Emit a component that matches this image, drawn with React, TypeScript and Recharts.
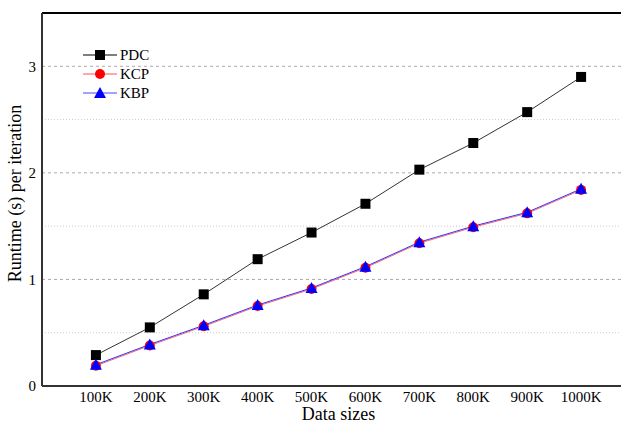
import { LineChart, Line, XAxis, YAxis, ReferenceLine } from 'recharts';

const sizes = [100, 200, 300, 400, 500, 600, 700, 800, 900, 1000];
const pdc = [0.29, 0.55, 0.86, 1.19, 1.44, 1.71, 2.03, 2.28, 2.57, 2.9];
const kcp = [0.19, 0.38, 0.56, 0.75, 0.91, 1.11, 1.34, 1.49, 1.62, 1.84];
const kbp = [0.2, 0.39, 0.57, 0.76, 0.92, 1.12, 1.35, 1.5, 1.63, 1.85];
const yTicks = [0, 1, 2, 3];
const minorLines = [0.5, 1.5, 2.5];

const data = sizes.map((s, i) => ({ size: s, PDC: pdc[i], KCP: kcp[i], KBP: kbp[i] }));

const FONT = '"Liberation Serif", "Times New Roman", serif';

const Square = (props: any) => {
  const { cx, cy, key } = props;
  if (cx == null || cy == null) return null;
  return <rect key={key} x={cx - 5} y={cy - 5} width={10} height={10} fill="#000" />;
};

const Circle = (props: any) => {
  const { cx, cy, key } = props;
  if (cx == null || cy == null) return null;
  return <circle key={key} cx={cx} cy={cy} r={5} fill="#ff0000" />;
};

const Triangle = (props: any) => {
  const { cx, cy, key } = props;
  if (cx == null || cy == null) return null;
  return <path key={key} d={`M${cx},${cy - 6} L${cx + 6},${cy + 5} L${cx - 6},${cy + 5} Z`} fill="#0000ff" />;
};

const legendItems = [
  { name: 'PDC', line: '#000', marker: 'square' },
  { name: 'KCP', line: '#ffaaaa', marker: 'circle' },
  { name: 'KBP', line: '#4444ff', marker: 'triangle' },
];

const ChartLegend = () => (
  <svg width={80} height={60} style={{ position: 'absolute', left: 82, top: 46 }}>
    {legendItems.map((it, i) => {
      const y = 9 + i * 19;
      return (
        <g key={it.name}>
          <line x1={1} x2={35} y1={y} y2={y} stroke={it.line} strokeWidth={it.marker === 'circle' ? 2 : 1} />
          {it.marker === 'square' && <rect x={13} y={y - 5} width={10} height={10} fill="#000" />}
          {it.marker === 'circle' && <circle cx={18} cy={y} r={5} fill="#ff0000" />}
          {it.marker === 'triangle' && <path d={`M18,${y - 6} L24,${y + 5} L12,${y + 5} Z`} fill="#0000ff" />}
          <text x={38} y={y + 5} fontFamily={FONT} fontSize={15} fill="#000">{it.name}</text>
        </g>
      );
    })}
  </svg>
);

export default function App() {
  return (
    <div style={{ position: 'fixed', left: 0, top: 0, width: 621, height: 423, overflow: 'hidden', background: '#fff' }}>
      <LineChart width={660} height={423} data={data} margin={{ top: 13, right: 25, left: 0, bottom: 0 }}>
        {minorLines.map((v) => (
          <ReferenceLine key={`m${v}`} y={v} stroke="#cccccc" strokeDasharray="1 2" />
        ))}
        {[1, 2, 3].map((v) => (
          <ReferenceLine key={`M${v}`} y={v} stroke="#aaaaaa" strokeDasharray="3 3" />
        ))}
        <ReferenceLine y={3.5} stroke="#000" strokeWidth={2} />
        <XAxis
          dataKey="size"
          type="number"
          domain={[0, 1100]}
          ticks={sizes}
          tickFormatter={(v) => `${v}K`}
          height={37}
          tickLine={false}
          tickSize={3}
          axisLine={{ stroke: '#333', strokeWidth: 2 }}
          tick={{ fill: '#000', fontSize: 15, fontFamily: FONT }}
          label={{ value: 'Data sizes', position: 'insideBottom', offset: 3, fill: '#000', fontSize: 18, fontFamily: FONT }}
        />
        <YAxis
          type="number"
          domain={[0, 3.5]}
          ticks={yTicks}
          width={42}
          tickLine={false}
          tickSize={4}
          axisLine={{ stroke: '#333', strokeWidth: 2 }}
          tick={{ fill: '#000', fontSize: 15, fontFamily: FONT }}
          label={{ value: 'Runtime (s) per iteration', angle: -90, position: 'insideLeft', offset: 15, dy: -6, fill: '#000', fontSize: 18, fontFamily: FONT, style: { textAnchor: 'middle' } }}
        />
        <Line dataKey="PDC" stroke="#333" strokeWidth={1} dot={Square} isAnimationActive={false} />
        <Line dataKey="KCP" stroke="#ff6666" strokeWidth={1} dot={Circle} isAnimationActive={false} />
        <Line dataKey="KBP" stroke="#3333ff" strokeWidth={1} dot={Triangle} isAnimationActive={false} />
      </LineChart>
      <ChartLegend />
    </div>
  );
}
